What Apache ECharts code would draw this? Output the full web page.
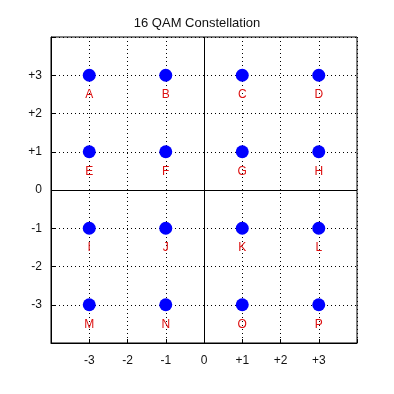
<!DOCTYPE html>
<html><head><meta charset="utf-8">
<script src="https://cdn.jsdelivr.net/npm/echarts@6/dist/echarts.min.js"></script>
<style>html,body{margin:0;padding:0;background:#fff}#c{width:394px;height:394px}</style>
</head><body><div id="c"></div>
<script>
const title = "16 QAM Constellation";
const symbols = ["A","B","C","D","E","F","G","H","I","J","K","L","M","N","O","P"];
const iValues = [-3,-1,1,3,-3,-1,1,3,-3,-1,1,3,-3,-1,1,3];
const qValues = [3,3,3,3,1,1,1,1,-1,-1,-1,-1,-3,-3,-3,-3];
const tickLabels = {"-3":"-3","-2":"-2","-1":"-1","0":"0","1":"+1","2":"+2","3":"+3"};

const chart = echarts.init(document.getElementById('c'));
const fnt = "Liberation Sans, Arial, sans-serif";
const axisCommon = {
  type:'value', min:-4, max:4, interval:1,
  axisLine:{show:true, onZero:false, lineStyle:{color:'#000', width:1}},
  axisTick:{show:true, inside:true, length:4, lineStyle:{color:'#000'}},
  splitLine:{show:true, lineStyle:{color:'#000', type:[1,3], width:1}},
  axisLabel:{color:'#111', fontSize:12, fontFamily:fnt,
    formatter:v => (tickLabels[String(v)] !== undefined ? tickLabels[String(v)] : '')}
};
chart.setOption({
  animation:false,
  backgroundColor:'#fff',
  title:{text:title, left:'center', top:12, textStyle:{fontSize:13, fontWeight:'normal', color:'#111', fontFamily:fnt}},
  grid:{left:51, top:37, width:306, height:306, show:true, borderColor:'#000', borderWidth:1, backgroundColor:'transparent'},
  xAxis:Object.assign({}, axisCommon, {position:'bottom', axisLabel:Object.assign({}, axisCommon.axisLabel, {margin:12})}),
  yAxis:Object.assign({}, axisCommon, {position:'left', axisLabel:Object.assign({}, axisCommon.axisLabel, {margin:9})}),
  series:[{
    type:'scatter',
    data:iValues.map((x,k)=>[x, qValues[k], symbols[k]]),
    symbol:'circle', symbolSize:13,
    itemStyle:{color:'#0000ff', opacity:1},
    label:{show:true, position:'bottom', distance:7, formatter:p=>p.data[2], color:'#dd1111', fontSize:12, fontFamily:fnt},
    markLine:{silent:true, symbol:'none', label:{show:false},
      lineStyle:{color:'#000', type:'solid', width:1},
      data:[{xAxis:0},{yAxis:0}]}
  }]
});
</script></body></html>
